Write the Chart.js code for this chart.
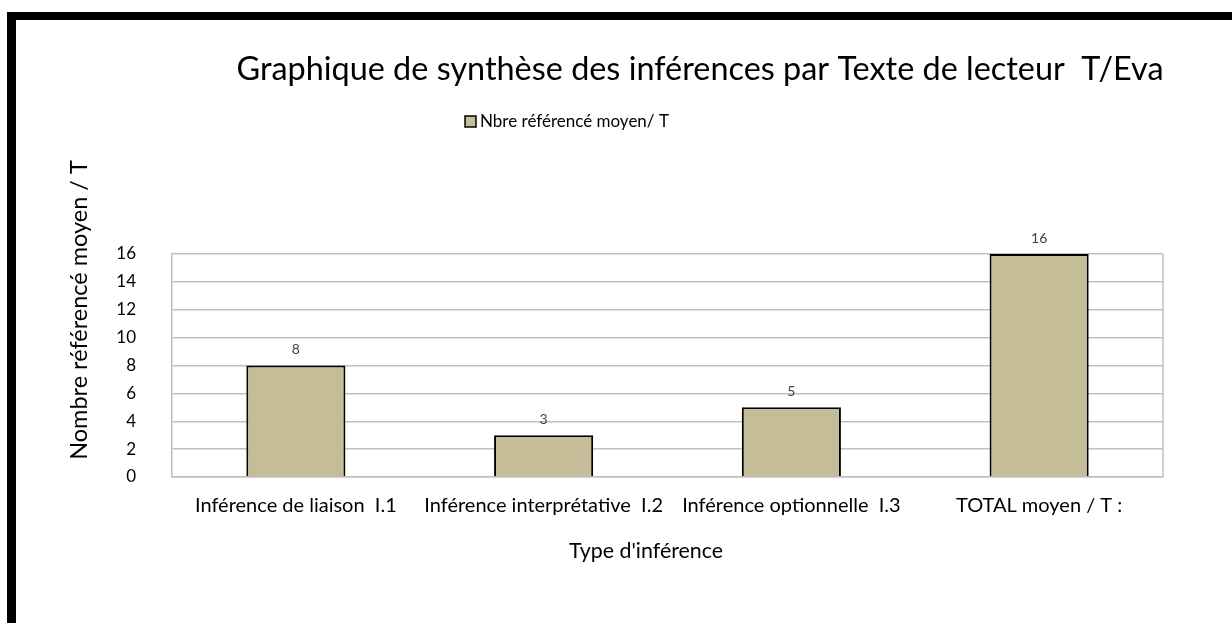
<!DOCTYPE html>
<html>
<head>
<meta charset="utf-8">
<script src="https://cdn.jsdelivr.net/npm/chart.js@4"></script>
<style>
  html, body { margin: 0; padding: 0; background: #fff; }
  #wrap { position: relative; width: 1232px; height: 623px; }
  #frame { position: absolute; left: 7px; top: 12px; right: 0; bottom: 0;
           border-top: 8px solid #000; border-left: 9px solid #000; }
  canvas { position: absolute; left: 0; top: 0; }
</style>
</head>
<body>
<div id="wrap">
  <div id="frame"></div>
  <canvas id="myChart" width="1232" height="623"></canvas>
</div>
<script>
var categories = ['Inférence de liaison  I.1', 'Inférence interprétative  I.2', 'Inférence optionnelle  I.3', 'TOTAL moyen / T :'];
var values = [8, 3, 5, 16];
var seriesName = 'Nbre référencé moyen/ T';
var yTicks = [0, 2, 4, 6, 8, 10, 12, 14, 16];
var chartTitle = 'Graphique de synthèse des inférences par Texte de lecteur  T/Eva';
var xTitle = "Type d'inférence";
var yTitle = 'Nombre référencé moyen / T';

var FONT = 'Lato, "Open Sans", sans-serif';
var barColor = '#C4BD97';

// texts and frame drawn by hand (positions follow the original layout)
var extras = {
  id: 'extras',
  afterDatasetsDraw: function(chart) {
    var ctx = chart.ctx;
    var area = chart.chartArea;
    ctx.save();
    // plot border
    ctx.strokeStyle = '#BFBFBF';
    ctx.lineWidth = 1.5;
    ctx.beginPath();
    ctx.moveTo(area.right, area.top);
    ctx.lineTo(area.right, area.bottom);
    ctx.stroke();

    // value labels
    var meta = chart.getDatasetMeta(0);
    ctx.fillStyle = '#404040';
    ctx.font = '14px ' + FONT;
    ctx.textAlign = 'center';
    ctx.textBaseline = 'middle';
    meta.data.forEach(function(bar, i) {
      ctx.fillText(String(values[i]), bar.x, bar.y - 16);
    });

    // title
    ctx.fillStyle = '#000';
    ctx.font = '32.4px ' + FONT;
    ctx.textAlign = 'center';
    ctx.fillText(chartTitle, 700, 70);

    // legend
    ctx.fillStyle = barColor;
    ctx.fillRect(465, 116, 11, 11);
    ctx.strokeStyle = '#000';
    ctx.lineWidth = 1.5;
    ctx.strokeRect(465, 116, 11, 11);
    ctx.fillStyle = '#000';
    ctx.font = '17px ' + FONT;
    ctx.textAlign = 'left';
    ctx.fillText(seriesName, 480, 122);

    // axis titles
    ctx.font = '21.4px ' + FONT;
    ctx.textAlign = 'center';
    ctx.fillText(xTitle, 646, 551);
    ctx.translate(79, 310);
    ctx.rotate(-Math.PI / 2);
    ctx.font = '23.5px ' + FONT;
    ctx.fillText(yTitle, 0, 0);
    ctx.restore();
  }
};

var ctx = document.getElementById('myChart');
var myChart = new Chart(ctx, {
  type: 'bar',
  data: {
    labels: categories,
    datasets: [{
      label: seriesName,
      data: values,
      backgroundColor: barColor,
      borderColor: '#000',
      borderWidth: 2,
      categoryPercentage: 1,
      barPercentage: 0.4
    }]
  },
  options: {
    responsive: false,
    animation: false,
    devicePixelRatio: 1,
    layout: { padding: { left: 100, right: 69, top: 254, bottom: 86 } },
    plugins: {
      legend: { display: false },
      title: { display: false },
      tooltip: { enabled: false }
    },
    scales: {
      x: {
        grid: { display: false },
        border: { color: '#BFBFBF', width: 1.5 },
        ticks: { color: '#000', font: { family: FONT, size: 20 }, padding: 9, maxRotation: 0, autoSkip: false },
        afterFit: function(s) { s.height = 60; }
      },
      y: {
        min: 0,
        max: 16,
        afterBuildTicks: function(s) { s.ticks = yTicks.map(function(v) { return { value: v }; }); },
        grid: { color: '#BFBFBF', lineWidth: 1.5, drawTicks: false },
        border: { color: '#BFBFBF', width: 1.5 },
        ticks: { color: '#000', font: { family: FONT, size: 17 }, padding: 36 },
        afterFit: function(s) { s.width = 72; }
      }
    }
  },
  plugins: [extras]
});
</script>
</body>
</html>
